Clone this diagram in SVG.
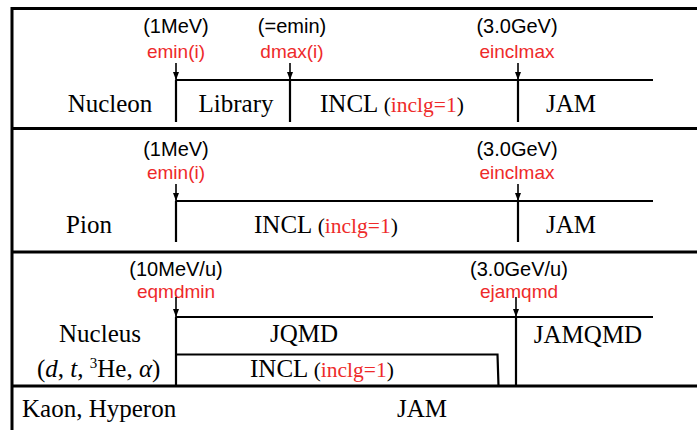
<svg xmlns="http://www.w3.org/2000/svg" width="697" height="430" viewBox="0 0 697 430">
<defs>
<marker id="ah" viewBox="0 0 8 6" refX="8" refY="3" markerWidth="8" markerHeight="6" orient="auto" markerUnits="userSpaceOnUse">
<path d="M0,0 L8,3 L0,6 z" fill="#000"/>
</marker>
</defs>
<style>
.frame{stroke:#000;stroke-width:3;fill:none}
.ln{stroke:#000;stroke-width:2.2;fill:none}
.arr{stroke:#000;stroke-width:1.6;fill:none;marker-end:url(#ah)}
.sb{font-family:"Liberation Sans",Arial,sans-serif;font-size:20px;fill:#000;text-anchor:middle}
.sr{font-family:"Liberation Sans",Arial,sans-serif;font-size:19px;fill:#ee2a2a;text-anchor:middle}
.t{font-family:"Liberation Serif","Times New Roman",serif;font-size:25px;fill:#000}
.c{text-anchor:middle}
.r{fill:#ee2a2a}
.sm{font-size:21.5px}
</style>
<rect width="697" height="430" fill="#fff"/>
<g id="frame">
<path class="frame" d="M12,430 V8.5 H697"/>
<path class="frame" d="M12,128.5 H697 M12,252 H697 M12,386 H697"/>
</g>
<g id="nucleon">
<text class="sb" x="176" y="33">(1MeV)</text>
<text class="sr" x="176" y="58">emin(i)</text>
<text class="sb" x="292" y="33">(=emin)</text>
<text class="sr" x="292" y="58">dmax(i)</text>
<text class="sb" x="517" y="33">(3.0GeV)</text>
<text class="sr" x="517" y="58">einclmax</text>
<path class="ln" d="M176,80 H653 M176,80 V122 M290,80 V122 M518,80 V122"/>
<text class="t c" x="110" y="112">Nucleon</text>
<text class="t c" x="236" y="112">Library</text>
<text class="t" x="320" y="112">INCL <tspan class="sm">(</tspan><tspan class="sm r">inclg=1</tspan><tspan class="sm">)</tspan></text>
<text class="t c" x="571" y="112">JAM</text>
</g>
<g id="pion">
<text class="sb" x="176" y="156">(1MeV)</text>
<text class="sr" x="176" y="179">emin(i)</text>
<text class="sb" x="517" y="156">(3.0GeV)</text>
<text class="sr" x="517" y="179">einclmax</text>
<path class="ln" d="M176,201 H653 M176,201 V242 M518,201 V242"/>
<text class="t c" x="89" y="233">Pion</text>
<text class="t" x="254" y="233">INCL <tspan class="sm">(</tspan><tspan class="sm r">inclg=1</tspan><tspan class="sm">)</tspan></text>
<text class="t c" x="571" y="233">JAM</text>
</g>
<g id="nucleus">
<text class="sb" x="176" y="276">(10MeV/u)</text>
<text class="sr" x="176" y="298">eqmdmin</text>
<text class="sb" x="519" y="276">(3.0GeV/u)</text>
<text class="sr" x="519" y="298">ejamqmd</text>
<path class="ln" d="M176,317 H653 M176,317 V386 M516,317 V386 M176,354.5 H497.5 L498.5,386"/>
<text class="t c" x="100" y="342">Nucleus</text>
<text class="t" x="37" y="377">(<tspan font-style="italic">d</tspan>, <tspan font-style="italic">t</tspan>, <tspan font-size="15" dy="-9">3</tspan><tspan dy="9">He, </tspan><tspan font-style="italic">α</tspan>)</text>
<text class="t c" x="304" y="342">JQMD</text>
<text class="t" x="250" y="377">INCL <tspan class="sm">(</tspan><tspan class="sm r">inclg=1</tspan><tspan class="sm">)</tspan></text>
<text class="t c" x="588" y="343">JAMQMD</text>
</g>
<g id="kaon">
<text class="t" x="22" y="417">Kaon, Hyperon</text>
<text class="t c" x="422" y="417">JAM</text>
</g>
<g id="connectors">
<line class="arr" x1="176" y1="63" x2="176" y2="80"/>
<line class="arr" x1="290" y1="63" x2="290" y2="80"/>
<line class="arr" x1="518" y1="63" x2="518" y2="80"/>
<line class="arr" x1="176" y1="184" x2="176" y2="201"/>
<line class="arr" x1="518" y1="184" x2="518" y2="201"/>
<line class="arr" x1="176" y1="297" x2="176" y2="317"/>
<line class="arr" x1="516" y1="297" x2="516" y2="317"/>
</g>
</svg>
